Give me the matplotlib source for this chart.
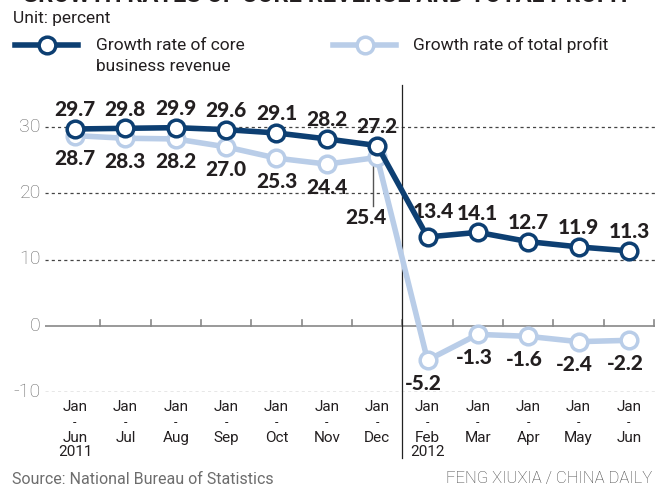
import matplotlib
matplotlib.use("Agg")
import matplotlib.pyplot as plt
import numpy as np

# data
top_labels = ["Jan", "Jan", "Jan", "Jan", "Jan", "Jan", "Jan", "Jan", "Jan", "Jan", "Jan", "Jan"]
end_months = ["Jun", "Jul", "Aug", "Sep", "Oct", "Nov", "Dec", "Feb", "Mar", "Apr", "May", "Jun"]
years = {0: "2011", 7: "2012"}
core_revenue = [29.7, 29.8, 29.9, 29.6, 29.1, 28.2, 27.2, 13.4, 14.1, 12.7, 11.9, 11.3]
total_profit = [28.7, 28.3, 28.2, 27.0, 25.3, 24.4, 25.4, -5.2, -1.3, -1.6, -2.4, -2.2]
yticks = [30, 20, 10, 0, -10]

navy = "#0d3f72"
light = "#b9cde8"
cond = ["Roboto", "DejaVu Sans"]
boldf = ["Lato", "DejaVu Sans"]

W, H = 655, 491
fig = plt.figure(figsize=(6.55, 4.91), dpi=100)

def fx(px):
    return px / W

def fy(py):
    return 1 - py / H

x = np.arange(len(core_revenue))
x0, dx = 75, 50.36
xl = ((45 - x0) / dx, (655 - x0) / dx)
ax = fig.add_axes([fx(45), fy(392), fx(610), fy(85) - fy(392)])
ax.set_xlim(*xl)
ax.set_ylim(-10, 30 + (127 - 85) / 6.625)
for s in ax.spines.values():
    s.set_visible(False)
ax.set_xticks([])
ax.set_yticks([])

for v in [30, 20, 10, -10]:
    ax.axhline(v, color="#444444", lw=0.9, ls=(0, (2.5, 2.5)), zorder=1)
ax.axhline(0, color="#888888", lw=1.2, zorder=1)
for b in np.arange(0.5, 11.6, 1):
    ax.plot([b, b], [0, 0.9], color="#888888", lw=1.2, zorder=1)
for v in yticks:
    ax.text(xl[0] - 0.08, v, str(v), ha="right", va="center", fontsize=14,
            color="#6a6a6a", family=cond, fontweight="light")

# separator between years
ax.plot([6.5, 6.5], [-20, 36.3], color="#222222", lw=0.9, clip_on=False, zorder=2)

ax.plot(x, total_profit, color=light, lw=4, marker="o", ms=12, mfc="white",
        mec=light, mew=2.5, zorder=3)
ax.plot(x, core_revenue, color=navy, lw=4, marker="o", ms=12, mfc="white",
        mec=navy, mew=2.5, zorder=4)

lab = dict(ha="center", va="center", fontsize=15, fontweight="black",
           color="#231f20", family=boldf)
for i, v in enumerate(core_revenue):
    off = (6, 25) if i == 7 else (0, 19)
    ax.annotate(f"{v:.1f}", (i, v), xytext=off, textcoords="offset pixels", **lab)
for i, v in enumerate(total_profit):
    if i == 6:
        ax.annotate(f"{v:.1f}", (i, v), xytext=(-11, -60), textcoords="offset pixels", **lab)
        ax.plot([i - 0.08, i - 0.08], [v - 1.1, v - 7.3], color="#555555", lw=1, zorder=2)
    else:
        ax.annotate(f"{v:.1f}", (i, v), xytext=(-4 if i >= 7 else 0, -23),
                    textcoords="offset pixels", **lab)

# category labels
for i in x:
    xp = fx(x0 + dx * i)
    fig.text(xp, fy(407), top_labels[i], ha="center", va="center", fontsize=11,
             color="#231f20", family=cond)
    fig.text(xp, fy(423), "-", ha="center", va="center", fontsize=9,
             color="#231f20", family=cond)
    fig.text(xp, fy(438), end_months[i], ha="center", va="center", fontsize=11,
             color="#231f20", family=cond)
    if i in years:
        fig.text(xp, fy(452), years[i], ha="center", va="center", fontsize=11,
                 color="#231f20", family=cond)

# title (cut off at top), unit, legend
fig.text(fx(22), fy(-5), "GROWTH RATES OF CORE REVENUE AND TOTAL PROFIT", ha="left",
         va="center", fontsize=17, fontweight="bold", color="#231f20", family=cond)
fig.text(fx(13), fy(18), "Unit: percent", ha="left", va="center", fontsize=12.5,
         color="#231f20", family=cond)

leg = fig.add_axes([0, 0, 1, 1])
leg.set_xlim(0, W)
leg.set_ylim(H, 0)
leg.axis("off")
leg.plot([15, 78], [45, 45], color=navy, lw=4)
leg.plot([47], [45], marker="o", ms=12, mfc="white", mec=navy, mew=2.5)
leg.plot([333, 396], [45, 45], color=light, lw=4)
leg.plot([365], [45], marker="o", ms=12, mfc="white", mec=light, mew=2.5)
leg.text(96, 45, "Growth rate of core", ha="left", va="center", fontsize=12.5,
         color="#231f20", family=cond)
leg.text(96, 66, "business revenue", ha="left", va="center", fontsize=12.5,
         color="#231f20", family=cond)
leg.text(413, 45, "Growth rate of total profit", ha="left", va="center", fontsize=12.5,
         color="#231f20", family=cond)

fig.text(fx(12), fy(479), "Source: National Bureau of Statistics", ha="left", va="center",
         fontsize=11.5, color="#6d6d6d", family=cond)
fig.text(fx(652), fy(479), "FENG XIUXIA / CHINA DAILY", ha="right", va="center",
         fontsize=12, color="#444444", family=cond, fontweight="light")

fig.savefig("out.png", dpi=100)
